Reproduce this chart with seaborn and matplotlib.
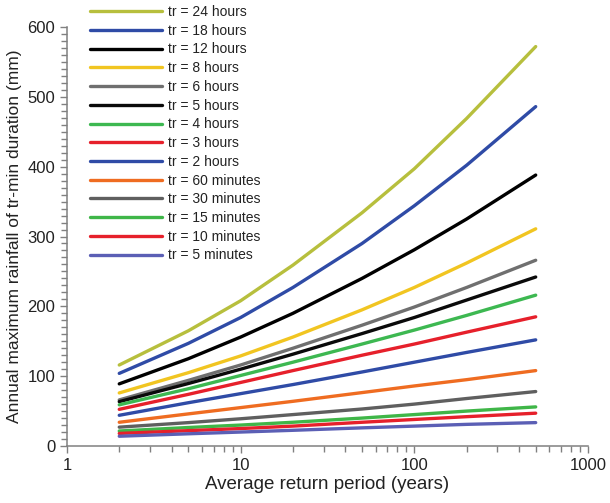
import matplotlib
matplotlib.use("Agg")
import matplotlib.pyplot as plt
from matplotlib.ticker import FixedLocator, MultipleLocator, FuncFormatter, LogLocator, NullFormatter
import numpy as np
import pandas as pd
import seaborn as sns

# Return periods (years) at which the depths are tabulated
return_period = [2, 5, 10, 20, 50, 100, 200, 500]

# Annual maximum rainfall depth (mm) for each duration
tr_24h = [116, 165, 208, 259, 334, 397, 469, 572]
tr_18h = [104, 147, 184, 227, 290, 344, 402, 486]
tr_12h = [89, 125, 156, 190, 240, 281, 325, 388]
tr_8h = [76, 105, 129, 156, 195, 227, 262, 311]
tr_6h = [66, 94, 116, 140, 173, 199, 227, 266]
tr_5h = [63.5, 89.5, 110, 131.5, 161, 184, 209, 242]
tr_4h = [59, 82, 101, 120, 146, 166, 187, 216]
tr_3h = [52.5, 74, 91, 108, 130, 146, 163, 185]
tr_2h = [44, 62, 75, 88, 106, 120, 134, 152]
tr_60m = [34, 46, 55, 64, 76.5, 86, 95, 108]
tr_30m = [27, 33.5, 39, 45, 53, 60, 68, 78]
tr_15m = [21.5, 26.5, 30, 34, 40, 45, 50, 56]
tr_10m = [18, 22, 25, 28.5, 34, 38, 42, 47]
tr_5m = [14, 17.5, 20, 22.5, 26, 28.5, 31, 33.5]

labels = ["tr = 24 hours", "tr = 18 hours", "tr = 12 hours", "tr = 8 hours",
          "tr = 6 hours", "tr = 5 hours", "tr = 4 hours", "tr = 3 hours",
          "tr = 2 hours", "tr = 60 minutes", "tr = 30 minutes",
          "tr = 15 minutes", "tr = 10 minutes", "tr = 5 minutes"]
series = [tr_24h, tr_18h, tr_12h, tr_8h, tr_6h, tr_5h, tr_4h, tr_3h,
          tr_2h, tr_60m, tr_30m, tr_15m, tr_10m, tr_5m]
colors = ["#b7bf3d", "#2f4ba6", "#000000", "#f1c521", "#6f6f6f", "#0a0a0a",
          "#3db851", "#e6202b", "#2f4ba6", "#ef6c21", "#5f5f5f", "#3fb648",
          "#e6202b", "#5b5fb5"]

x_ticks = [1, 10, 100, 1000]
y_ticks = [0, 100, 200, 300, 400, 500, 600]

df = pd.DataFrame({
    "period": np.tile(return_period, len(labels)),
    "depth": np.concatenate(series),
    "duration": np.repeat(labels, len(return_period)),
})

sns.set_style("ticks")
plt.rcParams["font.family"] = ["Liberation Sans", "DejaVu Sans"]

fig = plt.figure(figsize=(6.10, 5.03), dpi=100)
ax = fig.add_axes([0.1098, 0.1133, 0.8541, 0.8330])

sns.lineplot(data=df, x="period", y="depth", hue="duration", hue_order=labels,
             palette=dict(zip(labels, colors)), linewidth=2.4, ax=ax,
             legend=False, estimator=None, sort=False)

ax.set_xscale("log")
ax.set_xlim(1, 1000)
ax.set_ylim(0, 600)
ax.xaxis.set_major_locator(FixedLocator(x_ticks))
ax.xaxis.set_major_formatter(FuncFormatter(lambda v, p: f"{v:g}"))
ax.xaxis.set_minor_locator(LogLocator(base=10, subs=np.arange(2, 10)))
ax.xaxis.set_minor_formatter(NullFormatter())
ax.yaxis.set_major_locator(FixedLocator(y_ticks))
ax.yaxis.set_minor_locator(MultipleLocator(10))

for side in ("top", "right"):
    ax.spines[side].set_visible(False)
for side in ("left", "bottom"):
    ax.spines[side].set_color("#808080")
    ax.spines[side].set_linewidth(1.1)

ax.tick_params(which="both", direction="out", color="#808080", width=1.0,
               labelsize=12, labelcolor="#222222")
ax.tick_params(which="major", length=5)
ax.tick_params(which="minor", length=4)

ax.set_xlabel("Average return period (years)", fontsize=13.5, color="#222222", labelpad=2)
ax.set_ylabel("Annual maximum rainfall of tr-min duration (mm)", fontsize=12.5,
              color="#222222", labelpad=4)

handles = ax.get_lines()[:len(labels)]
leg = ax.legend(handles, labels, loc="upper left", bbox_to_anchor=(0.1475, 0.990),
                bbox_transform=fig.transFigure, frameon=False, fontsize=10,
                handlelength=5.2, handletextpad=0.4, labelspacing=0.34,
                borderpad=0, borderaxespad=0)
for t in leg.get_texts():
    t.set_color("#222222")

fig.savefig("out.png", dpi=100)
